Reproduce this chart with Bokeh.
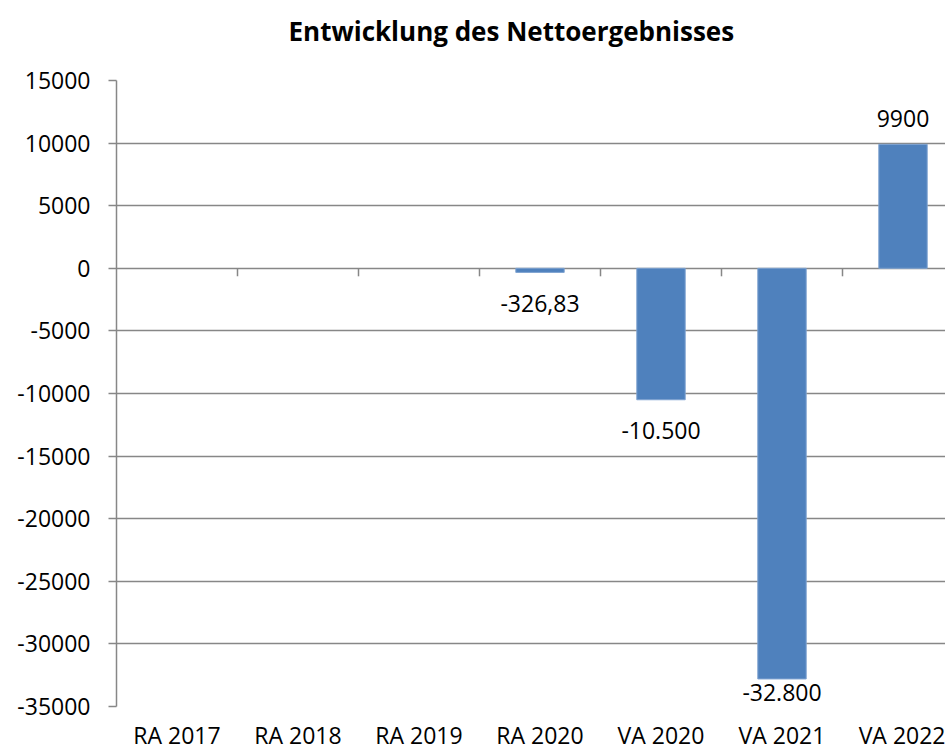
from bokeh.plotting import figure
from bokeh.models import Range1d, FixedTicker, ColumnDataSource, Title
from bokeh.core.properties import value
from bokeh.embed import file_html
from bokeh.resources import INLINE

title_text = "Entwicklung des Nettoergebnisses"
categories = ["RA 2017", "RA 2018", "RA 2019", "RA 2020", "VA 2020", "VA 2021", "VA 2022"]
values = [None, None, None, -326.83, -10500, -32800, 9900]
value_labels = ["", "", "", "-326,83", "-10.500", "-32.800", "9900"]
y_ticks = list(range(-35000, 15001, 5000))

FONT = "Open Sans"
GRID = "#878787"
BAR = "#4F81BD"

W, H = 945, 753
ML, MT, MB = 116, 80, 47
frame_w = W - ML
frame_h = H - MT - MB
cat_px = 121
y0, y1 = -35000, 15000
upp = (y1 - y0) / frame_h  # data units per pixel

p = figure(width=W, height=H, output_backend="svg", toolbar_location=None,
           x_range=Range1d(0, frame_w / cat_px), y_range=Range1d(y0, y1),
           min_border_left=ML, min_border_right=0, min_border_top=MT, min_border_bottom=MB)
p.outline_line_color = None
p.background_fill_color = "white"
p.border_fill_color = "white"

# main title
p.title.text = title_text
p.title.text_font = FONT
p.title.text_font_style = "bold"
p.title.text_font_size = "26px"
p.title.align = "left"
p.title.offset = 172
p.title.standoff = 16
p.title.text_color = "black"

# spacer between title and frame
p.add_layout(Title(text=" ", text_font_size="12px", standoff=8), "above")

# grid
p.xgrid.visible = False
p.ygrid.ticker = FixedTicker(ticks=y_ticks)
p.ygrid.grid_line_color = GRID
p.ygrid.grid_line_width = 1.5

# y axis
ya = p.yaxis[0]
ya.ticker = FixedTicker(ticks=y_ticks)
ya.major_label_overrides = {t: str(t) for t in y_ticks}
ya.axis_line_color = GRID
ya.axis_line_width = 1.5
ya.major_tick_line_color = GRID
ya.major_tick_line_width = 1.5
ya.major_tick_out = 8
ya.major_tick_in = 0
ya.minor_tick_line_color = None
ya.major_label_text_font = FONT
ya.major_label_text_font_size = "23px"
ya.major_label_text_color = "black"
ya.major_label_standoff = 18

# bottom axis (labels only)
centers = [i + 0.5 for i in range(len(categories))]
xa = p.xaxis[0]
xa.ticker = FixedTicker(ticks=centers)
xa.major_label_overrides = {c: name for c, name in zip(centers, categories)}
xa.axis_line_color = None
xa.major_tick_line_color = None
xa.major_tick_out = 0
xa.major_tick_in = 0
xa.minor_tick_line_color = None
xa.major_label_text_font = FONT
xa.major_label_text_font_size = "23px"
xa.major_label_text_color = "black"
xa.major_label_standoff = 12

# tick marks on the zero line at category boundaries
bounds = list(range(1, len(categories)))
p.segment(x0=bounds, x1=bounds, y0=[0] * len(bounds), y1=[-8 * upp] * len(bounds),
          line_color=GRID, line_width=1.5)

vals = [float("nan") if v is None else v for v in values]
src = ColumnDataSource(dict(x=centers, top=vals))
p.vbar(x="x", top="top", bottom=0, width=0.4, source=src,
       fill_color=BAR, line_color="#7fa3d1", line_width=1)

# value labels
lx, ly, lt = [], [], []
for c, v, t in zip(centers, values, value_labels):
    if v is None:
        continue
    if v < 0:
        yy = max(v - 31 * upp, y0 + 14 * upp)
    else:
        yy = v + 26 * upp
    lx.append(c); ly.append(yy); lt.append(t)
p.text(x=lx, y=ly, text=lt, text_align="center", text_baseline="middle",
       text_font=value(FONT), text_font_size="23px", text_color="black")

open("out.html", "w").write(file_html(p, INLINE))
